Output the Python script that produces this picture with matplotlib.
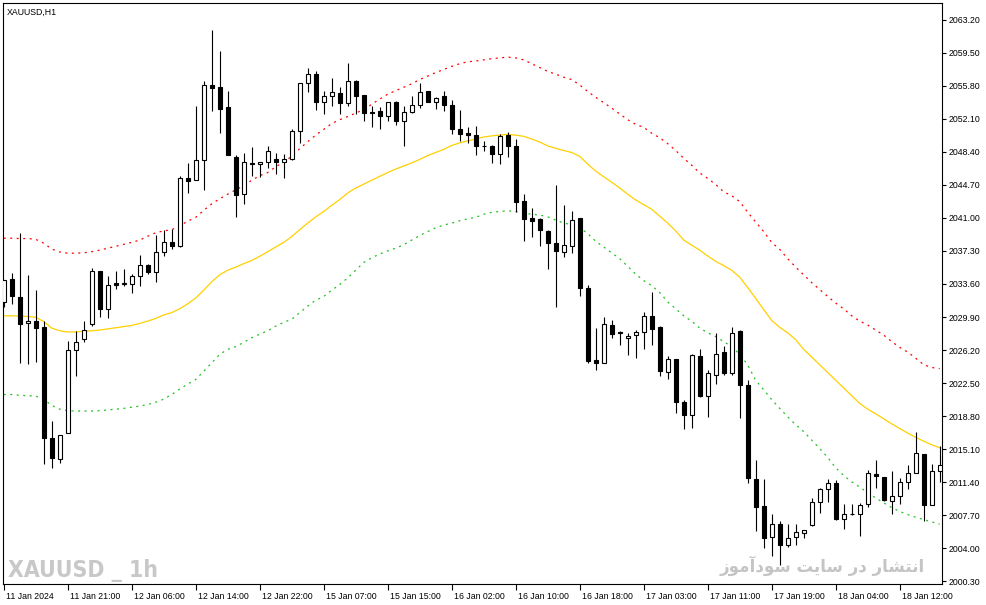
import matplotlib.pyplot as plt
from matplotlib.transforms import ScaledTranslation

# XAUUSD H1 candles
opens = [2031.6, 2034.2, 2032.1, 2029.2, 2029.4, 2028.8, 2016.4, 2014.0, 2016.9, 2026.2,
         2027.4, 2029.1, 2035.0, 2030.8, 2033.7, 2033.6, 2033.6, 2034.5, 2035.7, 2034.9,
         2037.2, 2038.3, 2037.8, 2045.5, 2045.2, 2047.5, 2055.9, 2055.7, 2053.4, 2047.8,
         2043.7, 2047.1, 2047.0, 2047.3, 2047.6, 2047.3, 2047.6, 2050.7, 2056.1, 2057.1,
         2054.0, 2054.6, 2055.0, 2053.9, 2056.3, 2054.8, 2052.9, 2053.0, 2052.4, 2054.0,
         2051.8, 2052.9, 2053.7, 2055.2, 2054.0, 2054.6, 2053.7, 2051.0, 2050.5, 2050.3,
         2049.1, 2049.1, 2048.2, 2050.3, 2049.1, 2042.9, 2041.0, 2040.9, 2039.5, 2038.2,
         2037.2, 2037.8, 2041.0, 2033.2, 2025.1, 2024.8, 2029.0, 2028.2, 2027.5, 2027.9,
         2028.2, 2030.0, 2028.8, 2023.7, 2025.2, 2020.4, 2018.9, 2025.5, 2021.1, 2023.4,
         2026.0, 2023.6, 2028.3, 2022.3, 2011.8, 2008.7, 2005.3, 2006.7, 2004.4, 2005.3,
         2005.7, 2006.6, 2009.2, 2010.6, 2011.3, 2007.3, 2007.8, 2007.8, 2009.0, 2012.3,
         2012.0, 2009.3, 2009.9, 2011.4, 2012.4, 2014.6, 2008.9, 2012.6]
highs = [2034.0, 2034.8, 2039.3, 2034.6, 2032.9, 2029.5, 2018.3, 2016.7, 2027.2, 2028.3,
         2029.5, 2035.4, 2035.1, 2034.5, 2035.1, 2035.3, 2034.7, 2036.8, 2035.8, 2039.1,
         2039.6, 2039.8, 2045.7, 2047.2, 2053.5, 2056.3, 2062.0, 2059.7, 2055.2, 2048.0,
         2048.3, 2048.9, 2047.3, 2049.0, 2048.3, 2048.2, 2051.0, 2056.1, 2057.8, 2057.4,
         2055.2, 2056.7, 2055.7, 2058.4, 2056.4, 2054.8, 2053.5, 2053.4, 2054.0, 2054.1,
         2053.5, 2054.6, 2056.1, 2055.2, 2054.5, 2055.2, 2054.2, 2053.1, 2051.2, 2051.3,
         2049.6, 2049.2, 2050.4, 2050.6, 2049.8, 2043.7, 2042.1, 2041.0, 2039.7, 2044.7,
         2042.5, 2041.8, 2041.0, 2033.5, 2028.7, 2029.9, 2029.6, 2028.3, 2028.1, 2028.4,
         2030.5, 2032.7, 2028.9, 2025.5, 2025.2, 2020.6, 2025.8, 2026.3, 2024.0, 2028.1,
         2026.6, 2028.8, 2028.4, 2022.9, 2013.9, 2011.8, 2007.8, 2007.0, 2006.7, 2006.7,
         2006.0, 2009.6, 2010.8, 2011.8, 2011.6, 2009.0, 2009.0, 2009.1, 2012.8, 2013.9,
         2012.0, 2012.7, 2011.9, 2013.3, 2017.0, 2014.6, 2013.4, 2015.5]
lows = [2031.0, 2031.4, 2024.8, 2024.6, 2024.9, 2013.4, 2013.0, 2013.6, 2016.9, 2023.3,
        2027.1, 2028.9, 2029.9, 2029.8, 2033.0, 2033.4, 2032.6, 2033.4, 2034.7, 2033.8,
        2036.7, 2037.5, 2037.7, 2043.8, 2045.2, 2044.1, 2053.0, 2050.5, 2048.0, 2041.1,
        2042.6, 2045.7, 2045.6, 2046.6, 2045.9, 2045.5, 2047.5, 2049.4, 2055.1, 2053.1,
        2052.6, 2053.5, 2052.6, 2053.5, 2052.6, 2051.8, 2051.2, 2051.0, 2051.8, 2051.4,
        2049.0, 2052.7, 2053.3, 2054.0, 2053.2, 2053.0, 2050.4, 2049.6, 2049.4, 2048.1,
        2048.5, 2047.2, 2047.0, 2047.8, 2041.7, 2038.4, 2038.9, 2037.9, 2035.3, 2031.0,
        2036.6, 2037.1, 2032.2, 2024.8, 2024.0, 2024.8, 2027.5, 2026.8, 2025.7, 2025.3,
        2026.3, 2026.8, 2023.3, 2023.0, 2019.1, 2017.4, 2017.5, 2020.9, 2018.7, 2022.4,
        2023.4, 2023.4, 2018.6, 2011.3, 2005.9, 2004.0, 2003.1, 2002.1, 2004.1, 2004.4,
        2005.1, 2006.5, 2007.9, 2009.2, 2007.2, 2006.2, 2007.7, 2005.4, 2008.6, 2010.7,
        2009.3, 2007.8, 2009.0, 2010.6, 2012.4, 2007.1, 2008.8, 2011.4]
closes = [2034.0, 2032.2, 2029.1, 2029.5, 2028.7, 2016.4, 2014.1, 2016.7, 2026.2, 2027.1,
          2028.5, 2035.0, 2030.8, 2033.5, 2033.5, 2033.7, 2034.5, 2035.7, 2034.9, 2037.2,
          2038.3, 2037.8, 2045.5, 2045.1, 2047.5, 2055.9, 2055.6, 2053.2, 2048.0, 2043.6,
          2047.3, 2047.0, 2047.3, 2048.5, 2047.3, 2047.6, 2050.7, 2056.1, 2057.1, 2054.0,
          2054.7, 2055.1, 2053.9, 2056.3, 2054.7, 2052.7, 2052.8, 2052.4, 2054.0, 2051.8,
          2052.9, 2053.7, 2055.1, 2054.0, 2054.4, 2053.7, 2051.0, 2050.4, 2050.3, 2049.1,
          2049.0, 2048.2, 2050.2, 2049.1, 2042.8, 2040.9, 2040.7, 2039.6, 2038.2, 2037.3,
          2038.0, 2040.8, 2033.2, 2025.0, 2024.8, 2029.1, 2028.0, 2028.1, 2027.8, 2028.2,
          2030.0, 2028.6, 2023.8, 2025.2, 2020.4, 2018.9, 2025.6, 2021.1, 2023.6, 2025.8,
          2023.6, 2028.1, 2022.3, 2011.9, 2008.6, 2005.2, 2006.7, 2004.4, 2005.2, 2005.8,
          2006.0, 2009.2, 2010.6, 2011.3, 2007.3, 2007.8, 2007.8, 2008.9, 2012.4, 2012.1,
          2009.4, 2009.9, 2011.4, 2012.4, 2014.7, 2008.8, 2012.6, 2013.3]

# envelope indicator: middle MA (gold), upper (red), lower (green)
ma_mid = [2030.04, 2030.04, 2030.00, 2029.96, 2029.87, 2029.39, 2028.66, 2028.36, 2028.23, 2028.23,
          2028.31, 2028.36, 2028.44, 2028.57, 2028.70, 2028.83, 2028.96, 2029.18, 2029.44, 2029.74,
          2030.13, 2030.39, 2030.82, 2031.38, 2032.03, 2032.90, 2033.85, 2034.63, 2035.14, 2035.49,
          2035.88, 2036.23, 2036.70, 2037.22, 2037.74, 2038.26, 2038.91, 2039.68, 2040.42, 2041.11,
          2041.72, 2042.41, 2043.06, 2043.79, 2044.35, 2044.78, 2045.22, 2045.65, 2046.08, 2046.47,
          2046.82, 2047.16, 2047.55, 2047.98, 2048.33, 2048.68, 2049.11, 2049.41, 2049.63, 2049.84,
          2050.06, 2050.19, 2050.27, 2050.36, 2050.27, 2050.14, 2049.84, 2049.50, 2049.06, 2048.80,
          2048.55, 2048.33, 2047.90, 2047.03, 2046.25, 2045.61, 2045.00, 2044.35, 2043.66, 2043.01,
          2042.49, 2041.97, 2041.20, 2040.42, 2039.55, 2038.52, 2037.95, 2037.39, 2036.74, 2036.14,
          2035.66, 2035.14, 2034.37, 2033.20, 2031.99, 2030.74, 2029.52, 2028.75, 2028.14, 2027.36,
          2026.28, 2025.42, 2024.55, 2023.69, 2022.82, 2021.96, 2021.09, 2020.23, 2019.58, 2019.06,
          2018.50, 2017.94, 2017.42, 2016.90, 2016.43, 2015.99, 2015.60, 2015.26]
ma_upper = [2038.73, 2038.73, 2038.69, 2038.69, 2038.60, 2038.17, 2037.52, 2037.18, 2037.05, 2037.05,
            2037.09, 2037.22, 2037.39, 2037.61, 2037.82, 2038.04, 2038.26, 2038.52, 2038.95, 2039.34,
            2039.55, 2039.68, 2040.12, 2040.63, 2041.07, 2041.84, 2042.58, 2043.14, 2043.66, 2044.14,
            2044.61, 2045.22, 2045.73, 2046.08, 2046.73, 2047.25, 2047.90, 2048.76, 2049.54, 2050.27,
            2050.92, 2051.57, 2052.00, 2052.35, 2052.74, 2053.13, 2053.73, 2054.30, 2054.86, 2055.25,
            2055.63, 2056.02, 2056.50, 2056.89, 2057.28, 2057.62, 2057.97, 2058.27, 2058.49, 2058.57,
            2058.70, 2058.83, 2058.92, 2059.01, 2058.92, 2058.70, 2058.27, 2057.84, 2057.41, 2057.10,
            2056.76, 2056.50, 2055.89, 2055.16, 2054.51, 2053.91, 2053.30, 2052.65, 2052.00, 2051.48,
            2051.14, 2050.49, 2049.97, 2049.32, 2048.55, 2047.68, 2046.90, 2046.04, 2045.43, 2044.74,
            2043.92, 2043.49, 2042.84, 2041.63, 2040.55, 2039.47, 2038.26, 2037.48, 2036.44, 2035.49,
            2034.63, 2033.76, 2032.98, 2032.20, 2031.47, 2030.82, 2030.04, 2029.44, 2029.01, 2028.44,
            2027.88, 2027.15, 2026.50, 2025.98, 2025.29, 2024.55, 2024.25, 2024.12]
ma_lower = [2021.22, 2021.22, 2021.14, 2021.09, 2021.05, 2020.66, 2020.01, 2019.58, 2019.41, 2019.37,
            2019.37, 2019.37, 2019.41, 2019.49, 2019.58, 2019.67, 2019.80, 2019.93, 2020.10, 2020.36,
            2020.70, 2021.22, 2021.83, 2022.39, 2022.91, 2023.82, 2024.77, 2025.72, 2026.28, 2026.58,
            2027.06, 2027.58, 2027.97, 2028.36, 2028.88, 2029.31, 2029.65, 2030.39, 2031.12, 2031.77,
            2032.20, 2032.90, 2033.54, 2034.28, 2035.14, 2036.01, 2036.53, 2036.96, 2037.31, 2037.61,
            2038.00, 2038.52, 2039.03, 2039.47, 2039.90, 2040.20, 2040.42, 2040.68, 2040.89, 2041.07,
            2041.41, 2041.63, 2041.72, 2041.80, 2041.72, 2041.54, 2041.41, 2041.33, 2041.11, 2040.76,
            2040.42, 2040.24, 2039.90, 2039.25, 2038.39, 2037.74, 2037.09, 2036.44, 2035.58, 2034.71,
            2033.98, 2033.42, 2032.64, 2031.60, 2030.82, 2030.04, 2029.44, 2028.66, 2028.14, 2027.71,
            2027.15, 2026.58, 2025.72, 2024.55, 2022.82, 2021.74, 2020.66, 2019.67, 2018.72, 2017.85,
            2017.07, 2016.12, 2015.17, 2014.18, 2013.01, 2012.15, 2011.45, 2010.85, 2010.24, 2009.64,
            2009.08, 2008.56, 2008.13, 2007.78, 2007.48, 2007.22, 2006.96, 2006.70]

x_tick_bars = [0, 8, 16, 24, 32, 40, 48, 56, 64, 72, 80, 88, 96, 104, 112]
x_tick_labels = ['11 Jan 2024', '11 Jan 21:00', '12 Jan 06:00', '12 Jan 14:00', '12 Jan 22:00',
                 '15 Jan 07:00', '15 Jan 15:00', '16 Jan 02:00', '16 Jan 10:00', '16 Jan 18:00',
                 '17 Jan 03:00', '17 Jan 11:00', '17 Jan 19:00', '18 Jan 04:00', '18 Jan 12:00']
y_tick_labels = ['2000.30', '2004.00', '2007.70', '2011.40', '2015.10', '2018.80', '2022.50',
                 '2026.20', '2029.90', '2033.60', '2037.30', '2041.00', '2044.70', '2048.40',
                 '2052.10', '2055.80', '2059.50', '2063.20']

bars = list(range(len(opens)))

fig = plt.figure(figsize=(9.87, 6.05), dpi=100)
ax = fig.add_axes([3 / 987, 1 - 584 / 605, 939 / 987, 581 / 605])

# envelope lines
ax.plot(bars, ma_upper, color='#FF0000', lw=0.9, linestyle=(0, (1.6, 3.6)), zorder=1)
ax.plot(bars, ma_lower, color='#22C022', lw=0.9, linestyle=(0, (1.6, 3.6)), zorder=1)
ax.plot(bars, ma_mid, color='#FFD000', lw=0.9, zorder=1)

# candles: wicks first, bodies on top
ax.vlines(bars, lows, highs, color='black', lw=0.8, zorder=2)
body_low = [min(o, c) for o, c in zip(opens, closes)]
body_h = [abs(c - o) for o, c in zip(opens, closes)]
face = ['white' if c >= o else 'black' for o, c in zip(opens, closes)]
ax.bar(bars, body_h, bottom=body_low, width=0.5, color=face, edgecolor='black',
       linewidth=0.8, zorder=3)

ax.set_xlim(-0.09, 117.29)
ax.set_ylim(2000.0, 2065.07)

ax.yaxis.tick_right()
ax.set_yticks([float(v) for v in y_tick_labels])
ax.set_yticklabels(y_tick_labels)
ax.set_xticks(x_tick_bars)
ax.set_xticklabels(x_tick_labels)
ax.tick_params(axis='both', direction='out', length=3, width=0.8, labelsize=6.3, pad=2,
               colors='black')
ax.tick_params(axis='x', length=4, pad=1.5)
for lbl in ax.get_xticklabels() + ax.get_yticklabels():
    lbl.set_fontfamily('Liberation Sans')
for lbl in ax.get_xticklabels():
    lbl.set_horizontalalignment('left')
    lbl.set_transform(lbl.get_transform() + ScaledTranslation(2 / 100, 0, fig.dpi_scale_trans))
for s in ax.spines.values():
    s.set_linewidth(0.8)

ax.text(0.004, 0.984, 'XAUUSD,H1', transform=ax.transAxes, fontsize=6.3,
        family='Liberation Sans', va='center', ha='left')

# watermarks (behind the candles)
ax.text(0.005, 0.012, 'XAUUSD _ 1h', transform=ax.transAxes, fontsize=16.5,
        fontweight='heavy', fontstretch='condensed', color='#C8C8C8',
        family=['DejaVu Sans'], va='baseline', ha='left', zorder=0)
# "انتشار در سایت سودآموز" as shaped presentation forms in visual order
fa_text = ('\ufeaf\ufeee\ufee3\ufe81\ufea9\ufeee\ufeb3 \ufe96\ufbfe\ufe8e\ufeb3 '
           '\ufead\ufea9 \ufead\ufe8e\ufeb8\ufe98\ufee7\ufe8d')
ax.text(0.982, 0.014, fa_text, transform=ax.transAxes, fontsize=12, fontweight='bold',
        color='#C4C4C4', family=['DejaVu Sans'], va='bottom', ha='right', zorder=0)

plt.savefig('out.png', dpi=100)
